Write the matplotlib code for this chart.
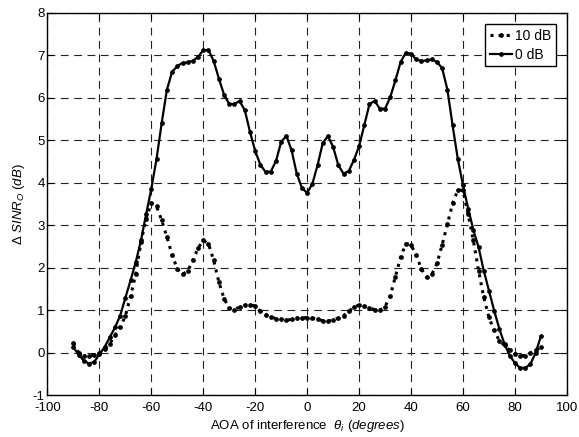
import numpy as np
import matplotlib
matplotlib.use('Agg')
import matplotlib.pyplot as plt

plt.rcParams['font.family'] = ['Liberation Sans', 'DejaVu Sans']
plt.rcParams['mathtext.fontset'] = 'custom'
plt.rcParams['mathtext.rm'] = 'Liberation Sans'
plt.rcParams['mathtext.it'] = 'Liberation Sans:italic'
plt.rcParams['axes.unicode_minus'] = False
plt.rcParams['font.size'] = 9.5

# angle of arrival (degrees)
aoa = np.arange(-90, 91, 2)

# delta SINR for 0 dB
sinr_0db = [0.12, -0.05, -0.19, -0.26, -0.22, -0.04, 0.13, 0.36, 0.59, 0.87,
            1.29, 1.70, 2.13, 2.64, 3.26, 3.86, 4.56, 5.41, 6.19, 6.61,
            6.74, 6.82, 6.83, 6.87, 6.96, 7.12, 7.12, 6.86, 6.45, 6.07,
            5.85, 5.85, 5.92, 5.70, 5.19, 4.74, 4.42, 4.25, 4.26, 4.51,
            4.96, 5.10, 4.76, 4.21, 3.87, 3.76, 3.97, 4.41, 4.93, 5.10,
            4.84, 4.41, 4.21, 4.27, 4.53, 4.86, 5.35, 5.85, 5.92, 5.74,
            5.74, 6.01, 6.41, 6.84, 7.06, 7.03, 6.90, 6.86, 6.88, 6.90,
            6.84, 6.69, 6.19, 5.35, 4.56, 3.94, 3.39, 2.89, 2.48, 1.93,
            1.46, 0.99, 0.56, 0.20, -0.07, -0.25, -0.36, -0.36, -0.27, 0.0,
            0.38]

# delta SINR for 10 dB
sinr_10db = [0.22, 0.0, -0.08, -0.08, -0.06, -0.02, 0.08, 0.21, 0.41, 0.60,
             0.86, 1.33, 1.85, 2.60, 3.15, 3.52, 3.44, 3.11, 2.72, 2.29,
             1.97, 1.84, 1.92, 2.17, 2.46, 2.64, 2.56, 2.17, 1.66, 1.27,
             1.05, 1.01, 1.07, 1.11, 1.13, 1.09, 0.97, 0.89, 0.84, 0.80,
             0.78, 0.76, 0.78, 0.81, 0.82, 0.82, 0.81, 0.78, 0.75, 0.74,
             0.77, 0.81, 0.87, 0.97, 1.07, 1.12, 1.09, 1.05, 1.01, 1.00,
             1.08, 1.34, 1.79, 2.25, 2.56, 2.54, 2.29, 1.97, 1.77, 1.84,
             2.10, 2.54, 3.02, 3.51, 3.82, 3.82, 3.25, 2.64, 1.93, 1.30,
             0.83, 0.52, 0.28, 0.17, 0.05, -0.03, -0.07, -0.07, -0.01, 0.05,
             0.13]

fig = plt.figure(figsize=(5.79, 4.37), dpi=100)
ax = fig.add_axes([0.082, 0.096, 0.897, 0.875])

ax.plot(aoa, sinr_10db, ':', color='black', lw=2.2, marker='o', ms=2.4, label='10 dB')
ax.plot(aoa, sinr_0db, '-', color='black', lw=1.6, marker='o', ms=2.4, label='0 dB')

ax.set_xlim(-100, 100)
ax.set_ylim(-1, 8)
ax.set_xticks(np.arange(-100, 101, 20))
ax.set_yticks(np.arange(-1, 9, 1))
ax.grid(True, color='#222222', linestyle=(0, (7, 5)), linewidth=0.8)
ax.tick_params(direction='in', top=True, right=True, length=4)
ax.tick_params(axis='x', pad=5)
ax.tick_params(axis='y', pad=2)
for s in ax.spines.values():
    s.set_linewidth(1.0)

ax.set_xlabel(r'AOA of interference  $\theta_i$ $\mathit{(degrees)}$', labelpad=3)
ax.set_ylabel(r'$\mathit{\Delta}\ SINR_O\ \mathit{(dB)}$', labelpad=4)

leg = ax.legend(loc='upper right', fancybox=False, edgecolor='black',
                handlelength=1.6, handletextpad=0.2, borderpad=0.35,
                labelspacing=0.35, borderaxespad=0.8, framealpha=1,
                fontsize=10)
leg.get_frame().set_linewidth(1.0)

plt.savefig('out.png', dpi=100)
